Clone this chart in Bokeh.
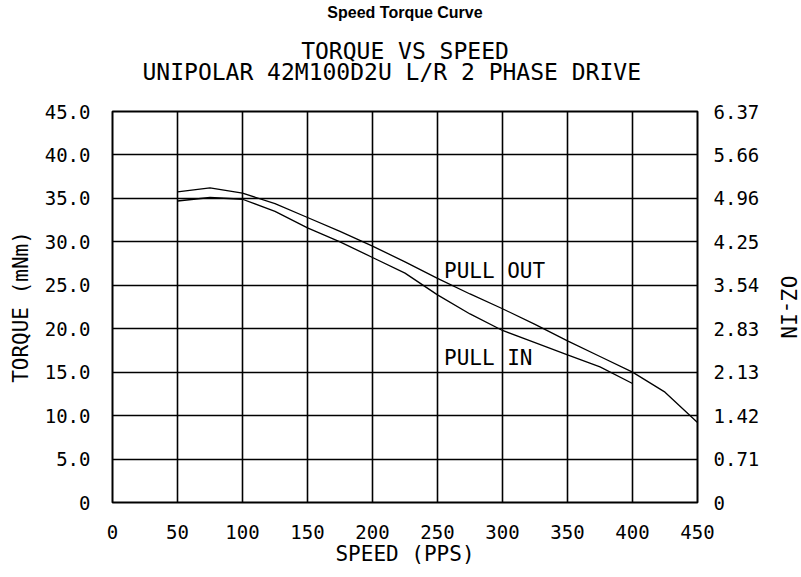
from bokeh.plotting import figure
from bokeh.models import Range1d, FixedTicker, LinearAxis, Title, ColumnDataSource
from bokeh.core.properties import value
from bokeh.embed import file_html
from bokeh.resources import INLINE

# ---- data ----
speed_out = [50, 75, 100, 125, 150, 175, 200, 225, 250, 275, 300, 325, 350, 375, 400, 425, 450]
torque_out = [35.75, 36.2, 35.6, 34.4, 32.8, 31.2, 29.5, 27.7, 25.8, 24.0, 22.3, 20.5, 18.6, 16.8, 15.0, 12.7, 9.2]

speed_in = [50, 75, 100, 125, 150, 175, 200, 225, 250, 275, 300, 325, 350, 375, 400]
torque_in = [34.7, 35.1, 34.9, 33.5, 31.6, 30.0, 28.2, 26.4, 23.9, 21.7, 19.8, 18.4, 17.0, 15.6, 13.7]

x_ticks = [0, 50, 100, 150, 200, 250, 300, 350, 400, 450]
y_ticks = [0, 5, 10, 15, 20, 25, 30, 35, 40, 45]
y_tick_labels = ["0", "5.0", "10.0", "15.0", "20.0", "25.0", "30.0", "35.0", "40.0", "45.0"]
oz_tick_labels = ["0", "0.71", "1.42", "2.13", "2.83", "3.54", "4.25", "4.96", "5.66", "6.37"]

curve_names = ["PULL OUT", "PULL IN"]
curve_label_x = [255, 255]
curve_label_y = [26.7, 16.6]

title_main = "Speed Torque Curve"
title_sub1 = "TORQUE VS SPEED"
title_sub2 = "UNIPOLAR 42M100D2U L/R 2 PHASE DRIVE"

MONO = "DejaVu Sans Mono"

p = figure(
    frame_width=585, frame_height=391,
    x_range=Range1d(0, 450), y_range=Range1d(0, 45),
    output_backend="svg", toolbar_location=None, title=None,
    min_border_left=112, min_border_right=60,
    min_border_top=111, min_border_bottom=60,
)
p.background_fill_color = "white"
p.border_fill_color = "white"
p.outline_line_color = "black"
p.outline_line_width = 2

# grid
p.xgrid.ticker = FixedTicker(ticks=x_ticks)
p.ygrid.ticker = FixedTicker(ticks=y_ticks)
for g in (p.xgrid, p.ygrid):
    g.grid_line_color = "black"
    g.grid_line_alpha = 1.0
    g.grid_line_width = 1.6

# axes
left = p.yaxis[0]
bottom = p.xaxis[0]
bottom.ticker = FixedTicker(ticks=x_ticks)
left.ticker = FixedTicker(ticks=y_ticks)
left.major_label_overrides = {t: s for t, s in zip(y_ticks, y_tick_labels)}
bottom.axis_label = "SPEED (PPS)"
left.axis_label = "TORQUE (mNm)"

right = LinearAxis(ticker=FixedTicker(ticks=y_ticks),
                   major_label_overrides={t: s for t, s in zip(y_ticks, oz_tick_labels)},
                   axis_label="OZ-IN")
p.add_layout(right, "right")

for ax in (left, bottom, right):
    ax.axis_line_color = None
    ax.major_tick_line_color = None
    ax.minor_tick_line_color = None
    ax.major_label_text_font = MONO
    ax.major_label_text_font_size = "19px"
    ax.major_label_text_color = "black"
    ax.axis_label_text_font = MONO
    ax.axis_label_text_font_size = "21px"
    ax.axis_label_text_font_style = "normal"
    ax.axis_label_text_color = "black"

bottom.major_label_standoff = 16
bottom.axis_label_standoff = 0
left.major_label_standoff = 16
left.axis_label_standoff = 9
right.major_label_standoff = 10
right.axis_label_standoff = 14
try:
    right.axis_label_orientation = "vertical"
except Exception:
    pass

# curves
p.line(speed_out, torque_out, line_color="black", line_width=1.3)
p.line(speed_in, torque_in, line_color="black", line_width=1.3)

src = ColumnDataSource(dict(x=curve_label_x, y=curve_label_y, t=curve_names))
p.text(x="x", y="y", text="t", source=src, text_font=value(MONO),
       text_font_size="21px", text_align="left", text_baseline="middle",
       text_color="black")

# titles: stacked outward from the frame (first added is closest)
p.add_layout(Title(text=title_sub2, align="left", offset=30, text_font=MONO,
                   text_font_size="23px", text_font_style="normal",
                   text_color="black", text_line_height=1.0,
                   vertical_align="bottom", standoff=54), "above")
p.add_layout(Title(text="\n\n" + title_sub1, align="center", text_font=MONO,
                   text_font_size="23px", text_font_style="normal",
                   text_color="black", text_line_height=1.1,
                   vertical_align="bottom", standoff=-69), "above")
p.add_layout(Title(text=title_main, align="center", text_font="Liberation Sans",
                   text_font_size="16px", text_font_style="bold",
                   text_color="black", vertical_align="bottom",
                   standoff=-15), "above")

open("out.html", "w").write(file_html(p, INLINE))
